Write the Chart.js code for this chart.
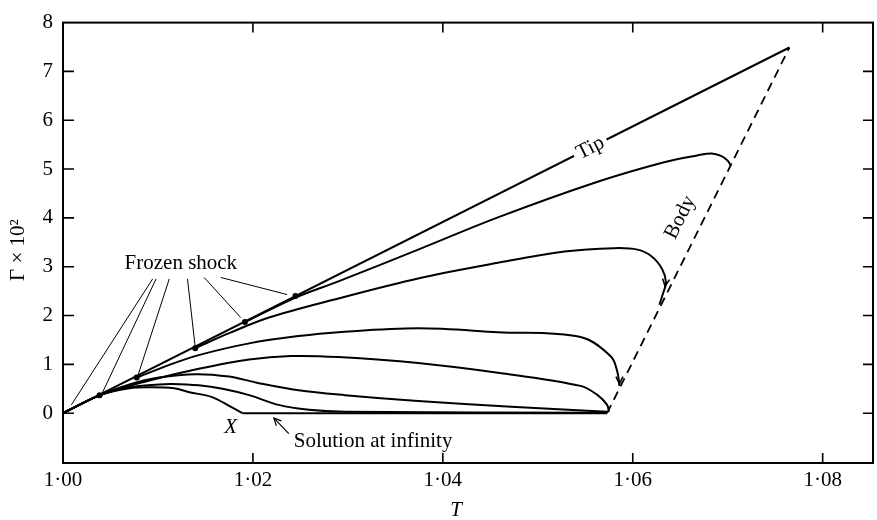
<!DOCTYPE html>
<html>
<head>
<meta charset="utf-8">
<script src="https://cdn.jsdelivr.net/npm/chart.js@4.4.0/dist/chart.umd.min.js"></script>
<style>
  html, body { margin: 0; padding: 0; background: #fff; }
  canvas { display: block; }
</style>
</head>
<body>
<canvas id="chart" width="877" height="520"></canvas>
<script>
// Axis ticks
const xTicks = [1.00, 1.02, 1.04, 1.06, 1.08];
const yTicks = [0, 1, 2, 3, 4, 5, 6, 7, 8];

// Solution curves, pairs of [T, Γ×10²]
const tipCurve = [[1.0000, 0.00], [1.0765, 7.49]];
const curveB = [[1.0192, 1.87], [1.0245, 2.37], [1.0290, 2.70], [1.0374, 3.35], [1.0458, 4.01],
                [1.0563, 4.74], [1.0633, 5.14], [1.0668, 5.28], [1.0683, 5.32], [1.0693, 5.27],
                [1.0700, 5.17], [1.0703, 5.08]];
const curveC = [[1.0139, 1.33], [1.0175, 1.64], [1.0217, 1.96], [1.0290, 2.35], [1.0374, 2.76],
                [1.0458, 3.08], [1.0528, 3.31], [1.0580, 3.38], [1.0605, 3.35], [1.0620, 3.21],
                [1.0631, 2.95], [1.0635, 2.68], [1.0632, 2.46], [1.0628, 2.22]];
const curveD = [[1.0078, 0.73], [1.0112, 0.99], [1.0143, 1.19], [1.0196, 1.43], [1.0248, 1.58],
                [1.0290, 1.66], [1.0374, 1.74], [1.0458, 1.66], [1.0545, 1.56], [1.0577, 1.16],
                [1.0584, 0.83], [1.0586, 0.56]];
const curveE = [[1.0000, 0.00], [1.0039, 0.37], [1.0091, 0.67], [1.0143, 0.91], [1.0196, 1.10],
                [1.0240, 1.17], [1.0290, 1.15], [1.0374, 1.03], [1.0458, 0.83], [1.0545, 0.56],
                [1.0563, 0.37], [1.0573, 0.17], [1.0575, 0.03]];
const curveF = [[1.0000, 0.00], [1.0039, 0.37], [1.0070, 0.59], [1.0101, 0.73], [1.0140, 0.80],
                [1.0175, 0.75], [1.0203, 0.63], [1.0248, 0.47], [1.0297, 0.37], [1.0374, 0.25],
                [1.0472, 0.13], [1.0542, 0.06], [1.0573, 0.03]];
const curveG = [[1.0000, 0.00], [1.0039, 0.37], [1.0070, 0.53], [1.0101, 0.59], [1.0115, 0.60],
                [1.0143, 0.57], [1.0168, 0.50], [1.0196, 0.37], [1.0227, 0.17], [1.0259, 0.07],
                [1.0297, 0.03], [1.0573, 0.01]];
const curveH = [[1.0000, 0.00], [1.0039, 0.37], [1.0070, 0.51], [1.0091, 0.53], [1.0117, 0.51],
                [1.0133, 0.43], [1.0157, 0.33], [1.0175, 0.15], [1.0189, 0.00]];
const infinityLine = [[1.0189, 0.00], [1.0573, 0.00]];
const bodyLine = [[1.0573, 0.00], [1.0765, 7.49]];

// Frozen-shock points and their leader lines
const frozenShock = [[1.00385, 0.37], [1.00776, 0.73], [1.01392, 1.33], [1.01916, 1.87], [1.02448, 2.40]];
const leaderFrom = [[1.00944, 2.75], [1.00980, 2.75], [1.01119, 2.75], [1.01311, 2.75], [1.01486, 2.78], [1.01661, 2.78]];
const leaderTo = [[1.00088, 0.17], [1.00403, 0.37], [1.00787, 0.76], [1.01392, 1.36], [1.01871, 1.96], [1.02360, 2.43]];
const infinityLeader = [[1.02378, -0.42], [1.02221, -0.10]];

const SERIF = "'Liberation Serif', 'Times New Roman', serif";
const pts = a => a.map(([x, y]) => ({ x, y }));

function line(data, extra) {
  return Object.assign({
    data: pts(data), showLine: true, borderColor: '#000', borderWidth: 2,
    pointRadius: 0, tension: 0.35, fill: false
  }, extra || {});
}

const datasets = [
  line(tipCurve, { tension: 0 }),
  line(curveB), line(curveC), line(curveD), line(curveE),
  line(curveF), line(curveG), line(curveH),
  line(infinityLine, { tension: 0 }),
  line(bodyLine, { tension: 0, borderWidth: 1.8, borderDash: [9, 6] }),
  ...leaderFrom.map((p, i) => line([p, leaderTo[i]], { tension: 0, borderWidth: 1 })),
  line(infinityLeader, { tension: 0, borderWidth: 1.2 }),
  { data: pts(frozenShock), showLine: false, pointRadius: 3, pointBackgroundColor: '#000', pointBorderWidth: 0 }
];

function text(ctx, str, x, y, opts) {
  ctx.save();
  ctx.translate(x, y);
  if (opts.rot) ctx.rotate(opts.rot);
  ctx.font = (opts.style || '') + ' ' + (opts.size || 21) + 'px ' + SERIF;
  ctx.textAlign = opts.align || 'center';
  ctx.textBaseline = 'middle';
  if (opts.clear) {
    const w = ctx.measureText(str).width;
    ctx.fillStyle = '#fff';
    ctx.fillRect(-w / 2 - 4, -7, w + 8, 14);
  }
  ctx.fillStyle = '#000';
  ctx.fillText(str, 0, 0);
  ctx.restore();
}

function chevron(ctx, x, y, dx, dy) {
  const a = Math.atan2(dy, dx), len = 8, spread = 0.45;
  ctx.beginPath();
  ctx.moveTo(x - len * Math.cos(a - spread), y - len * Math.sin(a - spread));
  ctx.lineTo(x, y);
  ctx.lineTo(x - len * Math.cos(a + spread), y - len * Math.sin(a + spread));
  ctx.stroke();
}

const decorations = {
  id: 'decorations',
  afterDatasetsDraw(chart) {
    const { ctx, chartArea: ca, scales: { x, y } } = chart;
    const px = v => x.getPixelForValue(v), py = v => y.getPixelForValue(v);

    ctx.save();
    ctx.strokeStyle = '#000';
    ctx.lineWidth = 2;
    ctx.strokeRect(ca.left, ca.top, ca.right - ca.left, ca.bottom - ca.top);

    // inward tick marks on all four sides
    ctx.lineWidth = 1.6;
    ctx.beginPath();
    xTicks.forEach(v => {
      const X = px(v);
      if (X - ca.left < 3) return;
      ctx.moveTo(X, ca.bottom); ctx.lineTo(X, ca.bottom - 10);
      ctx.moveTo(X, ca.top); ctx.lineTo(X, ca.top + 10);
    });
    yTicks.forEach(v => {
      const Y = py(v);
      if (Y - ca.top < 3) return;
      ctx.moveTo(ca.left, Y); ctx.lineTo(ca.left + 11, Y);
      ctx.moveTo(ca.right, Y); ctx.lineTo(ca.right - 10, Y);
    });
    ctx.stroke();

    // arrowheads along the body approach
    ctx.lineWidth = 1.6;
    chevron(ctx, px(1.0634), py(2.60), -0.15, 1);
    chevron(ctx, px(1.0586), py(0.60), 0, 1);
    ctx.lineWidth = 1.2;
    chevron(ctx, px(infinityLeader[1][0]), py(infinityLeader[1][1]),
            px(infinityLeader[1][0]) - px(infinityLeader[0][0]),
            py(infinityLeader[1][1]) - py(infinityLeader[0][1]));

    // labels
    const tipRot = Math.atan2(py(tipCurve[1][1]) - py(tipCurve[0][1]), px(tipCurve[1][0]) - px(tipCurve[0][0]));
    text(ctx, 'Tip', px(1.05555), py(5.43), { rot: tipRot, clear: true });
    const bodyRot = Math.atan2(py(bodyLine[1][1]) - py(bodyLine[0][1]), px(bodyLine[1][0]) - px(bodyLine[0][0]));
    text(ctx, 'Body', px(1.0650), py(4.01), { rot: bodyRot });
    text(ctx, 'Frozen shock', px(1.01241), py(3.06), {});
    text(ctx, 'X', px(1.01766), py(-0.30), { style: 'italic' });
    text(ctx, 'Solution at infinity', px(1.02430), py(-0.58), { align: 'left' });

    // axis titles
    text(ctx, 'T', px(1.0414), 510, { style: 'italic' });
    text(ctx, 'Γ × 10²', 18, 250, { rot: -Math.PI / 2 });
    ctx.restore();
  }
};

new Chart(document.getElementById('chart'), {
  type: 'scatter',
  data: { datasets },
  options: {
    responsive: false,
    animation: false,
    devicePixelRatio: 1,
    layout: { padding: { top: 9, right: 1, left: 0, bottom: 0 } },
    plugins: { legend: { display: false }, tooltip: { enabled: false } },
    scales: {
      x: {
        type: 'linear', min: 1.0, max: 1.0853,
        afterBuildTicks: s => { s.ticks = xTicks.map(v => ({ value: v })); },
        afterFit: s => { s.height = 57; },
        grid: { display: false, drawTicks: false },
        border: { display: false },
        ticks: {
          padding: 5, color: '#000', autoSkip: false, maxRotation: 0,
          font: { family: SERIF, size: 21 },
          callback: v => v.toFixed(2).replace('.', '\u00b7')
        }
      },
      y: {
        type: 'linear', min: -1.02, max: 8,
        afterBuildTicks: s => { s.ticks = yTicks.map(v => ({ value: v })); },
        afterFit: s => { s.width = 63; },
        grid: { display: false, drawTicks: false },
        border: { display: false },
        ticks: {
          padding: 10, color: '#000',
          font: { family: SERIF, size: 21 },
          callback: v => String(v)
        }
      }
    }
  },
  plugins: [decorations]
});
</script>
</body>
</html>
